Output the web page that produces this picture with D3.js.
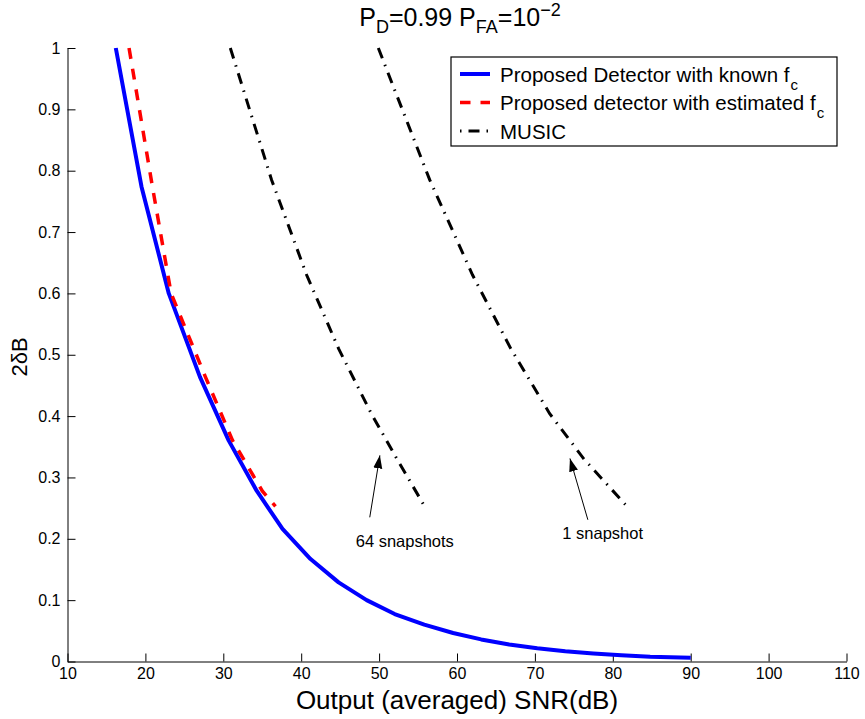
<!DOCTYPE html>
<html>
<head>
<meta charset="utf-8">
<script src="https://cdn.jsdelivr.net/npm/d3@7"></script>
<style>
  html, body { margin: 0; padding: 0; background: #fff; }
  svg { display: block; font-family: "Liberation Sans", Arial, Helvetica, sans-serif; }
</style>
</head>
<body>
<svg id="chart" width="865" height="719"></svg>
<script>
// Output SNR (dB) against 2δB for each detector
const knownSnr = [16.2, 19.5, 23.0, 27.0, 30.7, 34.3, 37.6, 41.2, 44.8, 48.4, 52.0, 55.8, 59.5, 63.1, 66.7, 70.3, 73.9, 77.5, 81.1, 84.8, 90.0];
const knownBw  = [1, 0.774, 0.600, 0.464, 0.360, 0.278, 0.216, 0.167, 0.129, 0.100, 0.0774, 0.060, 0.0464, 0.036, 0.0278, 0.0216, 0.0167, 0.0129, 0.010, 0.0077, 0.006];

const estSnr = [17.9, 20.9, 23.3, 27.7, 31.2, 35.0, 36.7];
const estBw  = [1, 0.774, 0.600, 0.464, 0.360, 0.278, 0.253];

const music64Snr = [30.9, 36.2, 40.7, 44.8, 49.0, 52.3, 55.7];
const music1Snr  = [49.9, 56.5, 62.0, 66.9, 71.9, 76.3, 81.6];
const musicBw    = [1, 0.785, 0.630, 0.510, 0.404, 0.330, 0.256];

const xTicks = [10, 20, 30, 40, 50, 60, 70, 80, 90, 100, 110];
const yTicks = [0, 0.1, 0.2, 0.3, 0.4, 0.5, 0.6, 0.7, 0.8, 0.9, 1];

// Annotation arrows: [tailSnr, tailBw, tipSnr, tipBw]
const arrow64 = [48.8, 0.235, 50.1, 0.336];
const arrow1  = [76.8, 0.231, 74.5, 0.331];
const label64 = { text: "64 snapshots", snr: 53.3, bw: 0.1865 };
const label1  = { text: "1 snapshot", snr: 78.7, bw: 0.200 };

const svg = d3.select("#chart");
const x = d3.scaleLinear().domain([10, 110]).range([67.5, 846.5]);
const y = d3.scaleLinear().domain([0, 1]).range([661.5, 48]);

// axes (ticks pointing inward)
const xAxis = d3.axisBottom(x).tickValues(xTicks).tickSizeInner(-8).tickSizeOuter(0).tickPadding(6)
  .tickFormat(d3.format("d"));
const yAxis = d3.axisLeft(y).tickValues(yTicks).tickSizeInner(-8).tickSizeOuter(0).tickPadding(7)
  .tickFormat(d => String(+d.toFixed(1)));

const gx = svg.append("g").attr("transform", `translate(0,${y(0)})`).call(xAxis);
const gy = svg.append("g").attr("transform", `translate(${x(10)},0)`).call(yAxis);
[gx, gy].forEach(g => {
  g.select(".domain").attr("stroke", "#000").attr("stroke-width", 1);
  g.selectAll(".tick line").attr("stroke", "#000").attr("stroke-width", 1);
  g.selectAll(".tick text").attr("fill", "#000").attr("font-size", 16)
    .attr("font-family", "'Liberation Sans', Arial, sans-serif");
});
gx.selectAll(".tick text").attr("dy", "0.71em");

// curves
const line = d3.line().x(d => x(d[0])).y(d => y(d[1]));
const zip = (a, b) => a.map((v, i) => [v, b[i]]);

svg.append("path").datum(zip(music64Snr, musicBw)).attr("d", line)
  .attr("fill", "none").attr("stroke", "#000").attr("stroke-width", 3)
  .attr("stroke-dasharray", "11,7,1.5,7");
svg.append("path").datum(zip(music1Snr, musicBw)).attr("d", line)
  .attr("fill", "none").attr("stroke", "#000").attr("stroke-width", 3)
  .attr("stroke-dasharray", "11,7,1.5,7");
svg.append("path").datum(zip(knownSnr, knownBw)).attr("d", line)
  .attr("fill", "none").attr("stroke", "#0000ff").attr("stroke-width", 4)
  .attr("stroke-linejoin", "round");
svg.append("path").datum(zip(estSnr, estBw)).attr("d", line)
  .attr("fill", "none").attr("stroke", "#ff0000").attr("stroke-width", 3.5)
  .attr("stroke-dasharray", "11,10");

// arrows
svg.append("defs").append("marker")
  .attr("id", "head").attr("markerUnits", "userSpaceOnUse")
  .attr("viewBox", "0 -5 13 10").attr("refX", 13).attr("refY", 0)
  .attr("markerWidth", 13).attr("markerHeight", 10).attr("orient", "auto")
  .append("path").attr("d", "M0,-4.5L13,0L0,4.5Z").attr("fill", "#000");

[arrow64, arrow1].forEach(a => {
  svg.append("line")
    .attr("x1", x(a[0])).attr("y1", y(a[1])).attr("x2", x(a[2])).attr("y2", y(a[3]))
    .attr("stroke", "#000").attr("stroke-width", 1).attr("marker-end", "url(#head)");
});
[label64, label1].forEach(l => {
  svg.append("text").attr("x", x(l.snr)).attr("y", y(l.bw))
    .attr("text-anchor", "middle").attr("font-size", 16.5).attr("fill", "#000").text(l.text);
});

// title
const title = svg.append("text").attr("x", 460).attr("y", 26).attr("text-anchor", "middle")
  .attr("font-size", 25).attr("fill", "#000");
title.append("tspan").text("P");
title.append("tspan").attr("font-size", 18).attr("dy", 7).text("D");
title.append("tspan").attr("dy", -7).text("=0.99 P");
title.append("tspan").attr("font-size", 18).attr("dy", 7).text("FA");
title.append("tspan").attr("dy", -7).text("=10");
title.append("tspan").attr("font-size", 18).attr("dy", -10).text("\u22122");

// axis titles
svg.append("text").attr("x", x(60)).attr("y", 709).attr("text-anchor", "middle")
  .attr("font-size", 26).attr("fill", "#000").text("Output (averaged) SNR(dB)");
svg.append("text").attr("transform", "translate(27,357) rotate(-90)").attr("text-anchor", "middle")
  .attr("font-size", 22).attr("fill", "#000").text("2δB");

// legend
const lg = svg.append("g");
lg.append("rect").attr("x", 451).attr("y", 57).attr("width", 386).attr("height", 89)
  .attr("fill", "#fff").attr("stroke", "#000").attr("stroke-width", 1.2);
const entries = [
  { label: "Proposed Detector with known f", sub: "c", color: "#0000ff", width: 4, dash: null, offset: 0 },
  { label: "Proposed detector with estimated f", sub: "c", color: "#ff0000", width: 3.5, dash: "10.5,10", offset: 0 },
  { label: "MUSIC", sub: null, color: "#000", width: 3, dash: "11,7,1.5,7", offset: 18 }
];
entries.forEach((e, i) => {
  const cy = 74 + i * 28.5;
  lg.append("line").attr("x1", 460).attr("x2", 490).attr("y1", cy).attr("y2", cy)
    .attr("stroke", e.color).attr("stroke-width", e.width)
    .attr("stroke-dasharray", e.dash).attr("stroke-dashoffset", e.offset);
  const t = lg.append("text").attr("x", 500).attr("y", cy + 7.5).attr("font-size", 20.5).attr("fill", "#000");
  t.append("tspan").text(e.label);
  if (e.sub) t.append("tspan").attr("font-size", 15).attr("dx", 1).attr("dy", 8).text(e.sub);
});
</script>
</body>
</html>
